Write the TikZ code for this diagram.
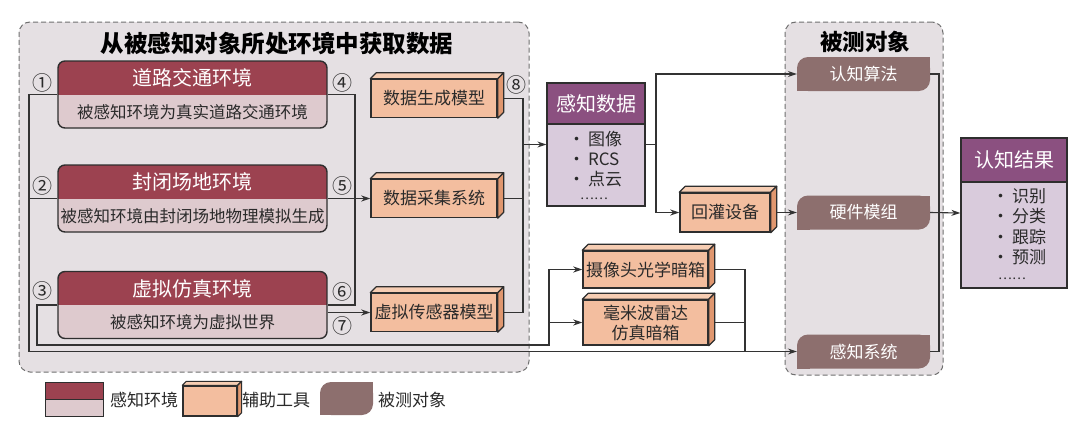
\documentclass[tikz,border=0pt]{standalone}
\usepackage{fontspec}
\setmainfont{Noto Sans CJK SC}
\usetikzlibrary{arrows.meta}
\definecolor{envdark}{HTML}{9C4250}
\definecolor{envlight}{HTML}{DECACE}
\definecolor{panelbg}{HTML}{E5E0E3}
\definecolor{panelline}{HTML}{707070}
\definecolor{toolf}{HTML}{F3BE9F}
\definecolor{toolt}{HTML}{F6CDB3}
\definecolor{tools}{HTML}{E0976F}
\definecolor{datah}{HTML}{8B5080}
\definecolor{datab}{HTML}{D9CBDC}
\definecolor{leafc}{HTML}{8D6F6E}
\definecolor{bordc}{HTML}{2E2E2E}
\definecolor{linec}{HTML}{333333}
\definecolor{txtc}{HTML}{2A2A2A}
\newcommand\fsz[2]{\fontsize{#1}{#2}\selectfont}
\newcommand\tdfaces[2]{%
  \draw[line width=1.1pt, draw=bordc, fill=toolt, line join=round, sharp corners]
    (#1.north west) -- ([shift={(#2,#2)}]#1.north west) -- ([shift={(#2,#2)}]#1.north east) -- (#1.north east) -- cycle;
  \draw[line width=1.1pt, draw=bordc, fill=tools, line join=round, sharp corners]
    (#1.north east) -- ([shift={(#2,#2)}]#1.north east) -- ([shift={(#2,#2)}]#1.south east) -- (#1.south east) -- cycle;}
\tikzset{
  panel/.style={draw=panelline, dash pattern=on 5pt off 3pt, line width=1pt, fill=panelbg, rounded corners=11pt, inner sep=0pt},
  ptitle/.style={font=\fsz{23.5}{28}\bfseries, text=black, inner sep=0pt},
  envbox/.style={draw=bordc, line width=1.4pt, rounded corners=7pt, fill=envlight, minimum width=269pt, minimum height=67pt, inner sep=0pt,
    path picture={\fill[envdark, sharp corners] (path picture bounding box.north west) rectangle (path picture bounding box.east);}},
  envleg/.style={draw=bordc, line width=1pt, fill=envlight, minimum width=58pt, minimum height=34pt, inner sep=0pt,
    path picture={\fill[envdark] (path picture bounding box.north west) rectangle (path picture bounding box.east);
      \draw[bordc, line width=1pt] (path picture bounding box.west) -- (path picture bounding box.east);}},
  whitetitle/.style={font=\fsz{20}{24}, text=white, inner sep=0pt},
  envtext/.style={font=\fsz{16.5}{20}, text=txtc, inner sep=0pt},
  num/.style={font=\fsz{20}{22}, text=txtc, inner sep=0pt},
  itemtext/.style={font=\fsz{17}{20}, text=txtc, inner sep=0pt},
  dotstext/.style={font=\fsz{13}{14}, text=txtc, inner sep=0pt},
  legtext/.style={font=\fsz{17}{20}, text=txtc, inner sep=0pt},
  toolbox/.style={draw=bordc, line width=1.5pt, fill=toolf, minimum width=126pt, minimum height=38pt, inner sep=0pt,
    font=\fsz{17}{20}, text=txtc, align=center},
  listbox/.style={draw=bordc, line width=1.3pt, fill=datab, inner sep=0pt,
    path picture={\fill[datah] (path picture bounding box.north west) rectangle ([yshift=-#1]path picture bounding box.north east);
      \draw[bordc, line width=1.3pt] ([yshift=-#1]path picture bounding box.north west) -- ([yshift=-#1]path picture bounding box.north east);}},
  leaf/.style={minimum width=133pt, minimum height=34pt, inner sep=0pt, font=\fsz{17}{20}, text=white,
    path picture={\fill[leafc, rounded corners=11pt] (path picture bounding box.south west) rectangle (path picture bounding box.north east);
      \fill[leafc, sharp corners] ([xshift=-13pt]path picture bounding box.north east) rectangle ([yshift=-13pt]path picture bounding box.north east);
      \fill[leafc, sharp corners] ([xshift=13pt]path picture bounding box.south west) rectangle ([yshift=13pt]path picture bounding box.south west);}},
  conn/.style={line width=1.1pt, draw=linec, sharp corners, line join=miter},
  arr/.style={conn, -{Stealth[length=9pt,width=6pt,inset=3pt]}},
}
\begin{document}
\begin{tikzpicture}[x=1pt,y=-1pt]
\useasboundingbox[fill=white] (0,0) rectangle (1080,431);
% panels
\node[panel, minimum width=510pt, minimum height=350pt] (pl) at (274,197) {};
\node[panel, minimum width=158pt, minimum height=353pt] (pr) at (864,198.5) {};
\node[ptitle] (plt) at (277,44) {从被感知对象所处环境中获取数据};
\node[ptitle, font=\fsz{22.5}{26}\bfseries] (prt) at (865,42) {被测对象};
% environment boxes
\node[envbox] (e1) at (192.5,94.5) {};
\node[whitetitle] (e1t) at (192.5,78) {道路交通环境};
\node[envtext] (e1s) at (192.5,112) {被感知环境为真实道路交通环境};
\node[envbox] (e2) at (192.5,198.5) {};
\node[whitetitle] (e2t) at (192.5,182) {封闭场地环境};
\node[envtext] (e2s) at (192.5,216) {被感知环境由封闭场地物理模拟生成};
\node[envbox] (e3) at (192.5,305) {};
\node[whitetitle] (e3t) at (192.5,288.5) {虚拟仿真环境};
\node[envtext] (e3s) at (192.5,322) {被感知环境为虚拟世界};
% circled numbers
\node[num] (n1) at (42,83) {①};
\node[num] (n2) at (42,186) {②};
\node[num] (n3) at (42,291) {③};
\node[num] (n4) at (342,83) {④};
\node[num] (n5) at (342,186) {⑤};
\node[num] (n6) at (342,292) {⑥};
\node[num] (n7) at (342,326) {⑦};
\node[num] (n8) at (516,85) {⑧};
% tools
\node[toolbox] (t1) at (434,98.5) {数据生成模型};
\node[toolbox] (t2) at (434,198.5) {数据采集系统};
\node[toolbox] (t3) at (434,312.5) {虚拟传感器模型};
\node[toolbox, minimum width=90pt, minimum height=39pt] (hg) at (725,212.5) {回灌设备};
\node[toolbox, minimum width=125pt, minimum height=37pt] (cam) at (645.5,269.5) {摄像头光学暗箱};
\node[toolbox, minimum width=125pt, minimum height=45pt] (rad) at (645.5,322.5) {毫米波雷达\\仿真暗箱};
% data box
\node[listbox=41pt, minimum width=98pt, minimum height=123pt] (d) at (596,144.5) {};
\node[whitetitle] (dh) at (596,103.5) {感知数据};
\node[itemtext, anchor=west] (d1) at (568,139) {·\,图像};
\node[itemtext, anchor=west] (d2) at (568,159.5) {·\,RCS};
\node[itemtext, anchor=west] (d3) at (568,179) {·\,点云};
\node[dotstext] (d4) at (594,199) {……};
% result box
\node[listbox=44pt, minimum width=106pt, minimum height=150pt] (r) at (1014,213) {};
\node[whitetitle] (rh) at (1014,160) {认知结果};
\node[itemtext, anchor=west] (r1) at (992,196) {·\,识别};
\node[itemtext, anchor=west] (r2) at (992,216.5) {·\,分类};
\node[itemtext, anchor=west] (r3) at (992,237) {·\,跟踪};
\node[itemtext, anchor=west] (r4) at (992,257.5) {·\,预测};
\node[dotstext] (r5) at (1012,279) {……};
% tested objects
\node[leaf] (o1) at (863.5,74) {认知算法};
\node[leaf] (o2) at (863.5,212.5) {硬件模组};
\node[leaf] (o3) at (863.5,351.5) {感知系统};
% junctions
\coordinate (ja) at (29,351.5);
\coordinate (jb) at (37,345);
\coordinate (jc) at (549,345);
\coordinate (jd) at (355,198.5);
\coordinate (je) at (523,144.5);
\coordinate (jf) at (656,144.5);
\coordinate (jg) at (745,351.5);
\coordinate (jh) at (939,212.5);
% connectors
\draw[arr] (e1.west) -| (ja) -- (o3.west);
\draw[conn] (e2.west) -- (e2.west -| ja);
\draw[arr] (e3.west) -| (jb) -- (jc) |- (cam.west);
\draw[arr] (jc |- rad.west) -- (rad.west);
\draw[conn] (e1.east) -| (jd) |- (e3.east);
\draw[arr] (e2.east) -- (t2.west);
\draw[arr] (e3.east |- t3.west) -- (t3.west);
\draw[conn] (t1.east) -| (je) |- (t3.east);
\draw[conn] (t2.east) -- (t2.east -| je);
\draw[arr] (je) -- (d.west);
\draw[arr] (d.east) -| (jf) |- (o1.west);
\draw[arr] (jf) |- (hg.west);
\draw[arr] (hg.east) -- (o2.west);
\draw[conn] (cam.east) -| (jg);
\draw[conn] (rad.east) -- (rad.east -| jg);
\draw[conn] (o1.east) -| (jh) |- (o3.east);
\draw[arr] (o2.east) -- (r.west);
% 3D faces
\tdfaces{t1}{6pt}
\tdfaces{t2}{6pt}
\tdfaces{t3}{6pt}
\tdfaces{hg}{6pt}
\tdfaces{cam}{6pt}
\tdfaces{rad}{6pt}
% legend
\node[envleg] (l1) at (74,399) {};
\node[legtext] (l1t) at (144,400) {感知环境};
\node[toolbox, minimum width=54pt, minimum height=30pt, line width=1.3pt] (l2) at (210,401) {};
\tdfaces{l2}{4pt}
\node[legtext] (l2t) at (276,400) {辅助工具};
\node[leaf, minimum width=53pt, minimum height=33pt] (l3) at (346.5,398.5) {};
\node[legtext] (l3t) at (412,400) {被测对象};
\end{tikzpicture}
\end{document}
